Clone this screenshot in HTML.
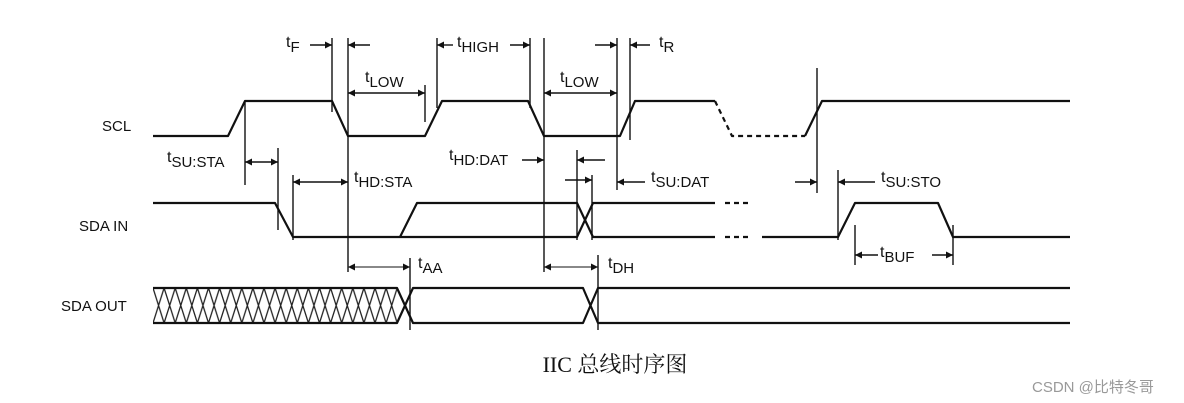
<!DOCTYPE html>
<html><head><meta charset="utf-8"><style>
html,body{margin:0;padding:0;background:#fff;}
svg{display:block}
text{font-family:"Liberation Sans",Arial,sans-serif;fill:#111}
</style></head><body>
<svg width="1184" height="403" viewBox="0 0 1184 403" xmlns="http://www.w3.org/2000/svg">
<defs>
<marker id="a" viewBox="0 0 10 10" refX="10" refY="5" markerWidth="10" markerHeight="7" orient="auto-start-reverse" markerUnits="userSpaceOnUse"><path d="M0,0L10,5L0,10z" fill="#111"/></marker>
<pattern id="h" patternUnits="userSpaceOnUse" x="153" y="288" width="11.1" height="35"><path d="M0,0L11.1,35M11.1,0L0,35" stroke="#222" stroke-width="1.3" fill="none"/></pattern>
</defs>
<g stroke="#111" stroke-width="2.2" fill="none" stroke-linejoin="round">
<path d="M153,136H228L245,101H332L348,136H425L442,101H528L544,136H620L635,101H715"/>
<path d="M715,101L732,136H805" stroke-dasharray="5,4"/>
<path d="M805,136L822,101H1070"/>
<path d="M153,203H275L293,237H577L593,203H715"/>
<path d="M400,237L417,203H577L593,237H715"/>
<path d="M725,203H752M725,237H752" stroke-dasharray="5,4"/>
<path d="M762,237H838L855,203H938L953,237H1070"/>
<rect x="153" y="288" width="244" height="35" fill="url(#h)" stroke="none"/>
<path d="M153,288H397L413,323H583L598,288H1070"/>
<path d="M153,323H397L413,288H583L598,323H1070"/>
</g>
<g stroke="#111" stroke-width="1.4" fill="none">
<path d="M332,38V112M348,38V272M425,85V122M437,38V108M530,38V108M544,38V272M617,38V190M630,38V140M817,68V193M245,101V185M278,148V230M293,175V240M577,150V240M592,175V240M838,170V240M855,225V265M953,225V265M410,258V330M598,255V330"/>
<path d="M310,45H332" marker-end="url(#a)"/>
<path d="M370,45H348" marker-end="url(#a)"/>
<path d="M348,93H425" marker-start="url(#a)" marker-end="url(#a)"/>
<path d="M437,45H453" marker-start="url(#a)"/>
<path d="M510,45H530" marker-end="url(#a)"/>
<path d="M544,93H617" marker-start="url(#a)" marker-end="url(#a)"/>
<path d="M595,45H617" marker-end="url(#a)"/>
<path d="M650,45H630" marker-end="url(#a)"/>
<path d="M245,162H278" marker-start="url(#a)" marker-end="url(#a)"/>
<path d="M293,182H348" marker-start="url(#a)" marker-end="url(#a)"/>
<path d="M522,160H544" marker-end="url(#a)"/>
<path d="M605,160H577" marker-end="url(#a)"/>
<path d="M565,180H592" marker-end="url(#a)"/>
<path d="M645,182H617" marker-end="url(#a)"/>
<path d="M795,182H817" marker-end="url(#a)"/>
<path d="M875,182H838" marker-end="url(#a)"/>
<path d="M855,255H878" marker-start="url(#a)"/>
<path d="M932,255H953" marker-end="url(#a)"/>
<path d="M348,267H410" marker-start="url(#a)" marker-end="url(#a)" stroke-width="1"/>
<path d="M544,267H598" marker-start="url(#a)" marker-end="url(#a)" stroke-width="1"/>
</g>
<g font-size="15">
<text x="102" y="131">SCL</text>
<text x="79" y="231">SDA IN</text>
<text x="61" y="311">SDA OUT</text>
</g>
<g font-size="16">
<text x="286" y="47">t<tspan dy="5" font-size="15">F</tspan></text>
<text x="365" y="82">t<tspan dy="5" font-size="15">LOW</tspan></text>
<text x="457" y="47">t<tspan dy="5" font-size="15">HIGH</tspan></text>
<text x="560" y="82">t<tspan dy="5" font-size="15">LOW</tspan></text>
<text x="659" y="47">t<tspan dy="5" font-size="15">R</tspan></text>
<text x="167" y="162">t<tspan dy="5" font-size="15">SU:STA</tspan></text>
<text x="354" y="182">t<tspan dy="5" font-size="15">HD:STA</tspan></text>
<text x="449" y="160">t<tspan dy="5" font-size="15">HD:DAT</tspan></text>
<text x="651" y="182">t<tspan dy="5" font-size="15">SU:DAT</tspan></text>
<text x="881" y="182">t<tspan dy="5" font-size="15">SU:STO</tspan></text>
<text x="880" y="257">t<tspan dy="5" font-size="15">BUF</tspan></text>
<text x="418" y="268">t<tspan dy="5" font-size="15">AA</tspan></text>
<text x="608" y="268">t<tspan dy="5" font-size="15">DH</tspan></text>
</g>
<text x="615" y="372" text-anchor="middle" font-size="22" style="font-family:'Liberation Serif','Noto Serif CJK SC',serif">IIC 总线时序图</text>
<text x="1032" y="392" font-size="15" style="fill:#999;font-family:'Liberation Sans','Noto Sans CJK SC',sans-serif">CSDN @比特冬哥</text>
</svg>
</body></html>
